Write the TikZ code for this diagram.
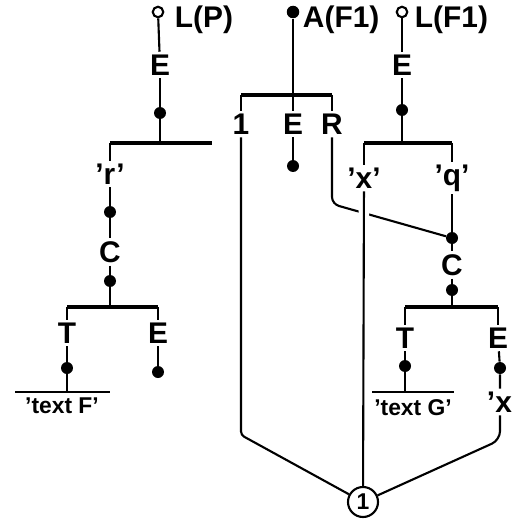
\documentclass[tikz,border=0pt]{standalone}
\usepackage{fontspec}
\setmainfont{Liberation Sans}
\usetikzlibrary{positioning,calc}
\tikzset{
  lbl/.style={font=\bfseries\fontsize{17}{19}\selectfont,inner sep=1.5pt},
  txtlbl/.style={font=\bfseries\fontsize{13}{15}\selectfont,inner sep=1pt},
  dot/.style={circle,fill,inner sep=0pt,minimum size=2.4mm},
  openpin/.style={circle,draw,line width=1.2pt,inner sep=0pt,minimum size=2.1mm},
  fullpin/.style={circle,fill,inner sep=0pt,minimum size=2.5mm},
  bar/.style={line width=2.8pt},
  link/.style={line width=1.2pt},
}

\begin{document}
\begin{tikzpicture}[x=0.02cm,y=-0.02cm]
\useasboundingbox (0,0) rectangle (512,527);

% entry points
\node[openpin] (pLP) at (158,12) {};
\node[lbl,anchor=west] (tLP) at (172,20) {L(P)};
\node[fullpin] (pA) at (293,12) {};
\node[lbl,anchor=west] (tA) at (300,20) {A(F1)};
\node[openpin] (pLF) at (402,12) {};
\node[lbl,anchor=west] (tLF) at (412,20) {L(F1)};

% left tree
\node[lbl] (E1) at (160,65) {E};
\node[dot] (d1) at (160,113) {};
\coordinate (b1l) at (110,143);
\coordinate (b1r) at (212,143);
\coordinate (j1) at (160,143);
\node[lbl] (r1) at (110,174) {'r'};
\node[dot] (d2) at (110,212) {};
\node[lbl] (C1) at (110,252) {C};
\node[dot] (d3) at (110,281) {};
\coordinate (b2l) at (67,307);
\coordinate (b2r) at (158,307);
\coordinate (j2) at (110,307);
\node[lbl] (T1) at (67,333) {T};
\node[lbl] (E2) at (158,333) {E};
\node[dot] (d4) at (67,368) {};
\node[dot] (d5) at (158,372) {};
\node[txtlbl] (tF) at (62,406) {'text F'};
\coordinate (b3l) at (15,392);
\coordinate (b3r) at (110,392);
\coordinate (j3) at (67,392);

% middle
\coordinate (b4l) at (241,95);
\coordinate (b4r) at (332,95);
\node[lbl] (one1) at (241,124) {1};
\node[lbl] (E3) at (293,124) {E};
\node[lbl] (R1) at (332,124) {R};
\node[dot] (d6) at (293,166) {};
\coordinate (rk) at (332,204);
\coordinate (ok) at (241,435);

% right tree
\node[lbl] (E4) at (402,65) {E};
\node[dot] (d7) at (402,110) {};
\coordinate (b5l) at (364,143);
\coordinate (b5r) at (452,143);
\coordinate (j5) at (402,143);
\node[lbl] (x1) at (364,178) {'x'};
\node[lbl] (q1) at (452,178) {'q'};
\node[dot] (d8) at (452,238) {};
\node[lbl] (C2) at (452,265) {C};
\node[dot] (d9) at (452,290) {};
\coordinate (b6l) at (405,307);
\coordinate (b6r) at (498,307);
\coordinate (j6) at (452,307);
\node[lbl] (T2) at (405,338) {T};
\node[lbl] (E5) at (498,338) {E};
\node[dot] (d10) at (405,366) {};
\node[dot] (d11) at (500,368) {};
\node[txtlbl] (tG) at (413,408) {'text G'};
\coordinate (b7l) at (372,392);
\coordinate (b7r) at (454,392);
\coordinate (j7) at (405,392);
\node[lbl,anchor=west] (x2) at (484,402) {'x};
\coordinate (xk) at (500,440);

\node[circle,draw,line width=1.2pt,inner sep=0pt,minimum size=6mm,
      font=\bfseries\fontsize{13}{14}\selectfont] (sum) at (363,502) {1};

% bars
\draw[bar] (b1l) -- (b1r);
\draw[bar] (b2l) -- (b2r);
\draw[bar] (b4l) -- (b4r);
\draw[bar] (b5l) -- (b5r);
\draw[bar] (b6l) -- (b6r);
\draw[link] (b3l) -- (b3r);
\draw[link] (b7l) -- (b7r);

% links
\draw[link] (pLP) -- (E1);
\draw[link] (E1) -- (d1) -- (j1);
\draw[link] (b1l) -- (r1);
\draw[link] (r1) -- (d2) -- (C1);
\draw[link] (C1) -- (d3) -- (j2);
\draw[link] (b2l) -- (T1);
\draw[link] (b2r) -- (E2);
\draw[link] (T1) -- (d4) -- (j3);
\draw[link] (E2) -- (d5);

\draw[link] (pA) -- (E3);
\draw[link] (b4l) -- (one1);
\draw[link] (b4r) -- (R1);
\draw[link] (E3) -- (d6);

\draw[link] (pLF) -- (E4);
\draw[link] (E4) -- (d7) -- (j5);
\draw[link] (b5l) -- (x1);
\draw[link] (b5r) -- (q1);
\draw[link] (q1) -- (d8) -- (C2);
\draw[link] (C2) -- (d9) -- (j6);
\draw[link] (b6l) -- (T2);
\draw[link] (b6r) -- (E5);
\draw[link] (T2) -- (d10) -- (j7);
\draw[link] (E5) -- (d11) -- (x2.north -| d11);

\draw[link,rounded corners=4pt] (R1) -- (rk) -- (d8);
\draw[link,rounded corners=2pt] (one1) -- (ok) -- (sum);
\draw[link,rounded corners=5pt] (x2.south -| xk) -- (xk) -- (sum);
\draw[link,preaction={draw=white,line width=6pt,shorten >=5cm}] (x1) -- (sum);

\end{tikzpicture}
\end{document}
